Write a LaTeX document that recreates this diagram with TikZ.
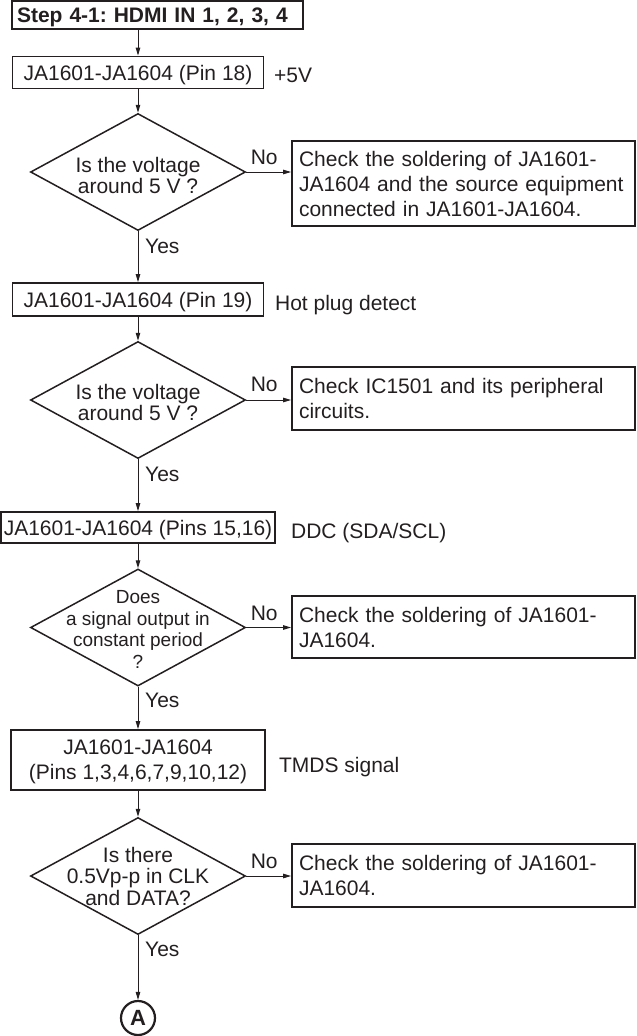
\documentclass[tikz,border=0pt]{standalone}
\usepackage{fontspec}
\setmainfont{Liberation Sans}
\usetikzlibrary{shapes.geometric,arrows.meta}
\definecolor{ink}{RGB}{35,31,32}
\frenchspacing
\begin{document}
\begin{tikzpicture}[x=1pt,y=-1pt,
  every node/.style={text=ink},
  box/.style={draw=ink, line width=1.8pt, inner xsep=0pt, inner ysep=0pt, text depth=0pt, align=center, font=\fontsize{21}{25}\selectfont},
  chk/.style={draw=ink, line width=1.8pt, minimum width=343pt, text width=329pt, inner xsep=7pt, inner ysep=0pt, align=left, font=\fontsize{21}{25}\selectfont},
  dia/.style={draw=ink, line width=1.5pt, diamond, minimum width=215pt, minimum height=117pt, inner sep=0pt},
  dtext/.style={align=center, inner sep=0pt, font=\fontsize{21}{21.5}\selectfont},
  lbl/.style={inner sep=0pt, font=\fontsize{21}{25}\selectfont},
  arr/.style={draw=ink, line width=1pt, -{Triangle[length=8pt,width=4.5pt]}},
]
\useasboundingbox (0,0) rectangle (637,1036);

% main column
\node[box, minimum width=291pt, minimum height=28pt, text width=281pt, inner xsep=5pt, align=left, font=\fontsize{21}{25}\selectfont\bfseries] (st) at (157.5,15) {Step 4-1: HDMI IN 1, 2, 3, 4};
\node[box, minimum width=251pt, minimum height=32pt] (b2) at (138,72.5) {JA1601-JA1604 (Pin 18)};
\node[dia] (d1) at (138,172) {};
\node[dtext] (d1t) at ([yshift=-3.5pt]d1.center) {Is the voltage\\around 5 V ?};
\node[box, minimum width=251pt, minimum height=33pt] (b3) at (138,299.5) {JA1601-JA1604 (Pin 19)};
\node[dia] (d2) at (138,400) {};
\node[dtext] (d2t) at ([yshift=-2.6pt]d2.center) {Is the voltage\\around 5 V ?};
\node[box, minimum width=274pt, minimum height=31pt] (b4) at (138,527.5) {JA1601-JA1604 (Pins 15,16)};
\node[dia] (d3) at (138,627.5) {};
\node[dtext, font=\fontsize{19}{21.5}\selectfont] (d3t) at ([yshift=-1.8pt]d3.center) {Does\\a signal output in\\constant period\\?};
\node[box, minimum width=254pt, minimum height=60pt] (b5) at (138,760) {JA1601-JA1604\\(Pins 1,3,4,6,7,9,10,12)};
\node[dia] (d4) at (138,876) {};
\node[dtext] (d4t) at ([yshift=-0.4pt]d4.center) {Is there\\0.5Vp-p in CLK\\and DATA?};
\node[circle, draw=ink, line width=2.2pt, minimum size=34pt, inner sep=0pt, font=\fontsize{22}{22}\selectfont\bfseries] (A) at (138,1018) {A};

% check boxes
\node[chk, minimum height=85pt] (c1) at (463.5,183.5) {Check the soldering of JA1601-\\JA1604 and the source equipment\\connected in JA1601-JA1604.};
\node[chk, minimum height=63pt] (c2) at (463.5,398.5) {Check IC1501 and its peripheral\\circuits.};
\node[chk, minimum height=62pt] (c3) at (463.5,627) {Check the soldering of JA1601-\\JA1604.};
\node[chk, minimum height=63pt] (c4) at (463.5,875.5) {Check the soldering of JA1601-\\JA1604.};

% side labels
\node[lbl, anchor=base west] (s1) at ([xshift=9.5pt,yshift=-10pt]b2.east) {+5V};
\node[lbl, anchor=base west] (s2) at ([xshift=10.5pt,yshift=-10.5pt]b3.east) {Hot plug detect};
\node[lbl, anchor=base west] (s3) at ([xshift=15pt,yshift=-10.5pt]b4.east) {DDC (SDA/SCL)};
\node[lbl, anchor=base west] (s4) at ([xshift=13pt,yshift=-12pt]b5.east) {TMDS signal};

% No / Yes labels
\node[lbl] (no1) at ([xshift=18pt,yshift=15pt]d1.east) {No};
\node[lbl] (no2) at ([xshift=18pt,yshift=16pt]d2.east) {No};
\node[lbl] (no3) at ([xshift=18pt,yshift=14.5pt]d3.east) {No};
\node[lbl] (no4) at ([xshift=18pt,yshift=15pt]d4.east) {No};
\node[lbl, anchor=west] (y1) at ([xshift=7pt,yshift=-15pt]d1.south) {Yes};
\node[lbl, anchor=west] (y2) at ([xshift=7pt,yshift=-15pt]d2.south) {Yes};
\node[lbl, anchor=west] (y3) at ([xshift=7pt,yshift=-14pt]d3.south) {Yes};
\node[lbl, anchor=west] (y4) at ([xshift=7pt,yshift=-14pt]d4.south) {Yes};

% connectors
\draw[arr] (b2.north |- st.south) -- (b2.north);
\draw[arr] (b2.south) -- (d1.north);
\draw[arr] (d1.south) -- (b3.north);
\draw[arr] (b3.south) -- (d2.north);
\draw[arr] (d2.south) -- (b4.north);
\draw[arr] (b4.south) -- (d3.north);
\draw[arr] (d3.south) -- (b5.north);
\draw[arr] (b5.south) -- (d4.north);
\draw[arr] (d4.south) -- (A.north);
\draw[arr] (d1.east) -- (d1.east -| c1.west);
\draw[arr] (d2.east) -- (d2.east -| c2.west);
\draw[arr] (d3.east) -- (d3.east -| c3.west);
\draw[arr] (d4.east) -- (d4.east -| c4.west);
\end{tikzpicture}
\end{document}
